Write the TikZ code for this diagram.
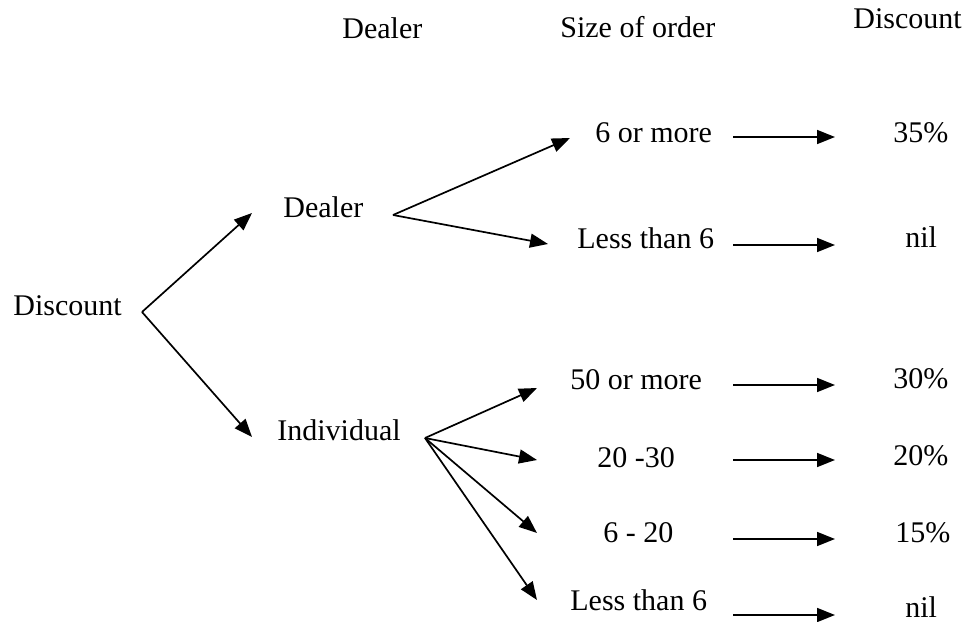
\documentclass[tikz,border=0pt]{standalone}
\usepackage{fontspec}
\setmainfont{Liberation Serif}
\usetikzlibrary{arrows.meta}
\begin{document}
\begin{tikzpicture}[x=0.5pt,y=-0.5pt,
  lbl/.style={anchor=base west,inner sep=0pt,font=\fontsize{15pt}{18pt}\selectfont},
  branch/.style={line width=0.85pt,-{Triangle[length=9pt,width=7pt]}},
  leadto/.style={line width=0.85pt,-{Triangle[length=9pt,width=7pt]}}]
\useasboundingbox (0,0) rectangle (966,622);

% column headings
\node[lbl] (hdealer) at (342,38) {Dealer};
\node[lbl] (hsize)   at (560,37) {Size of order};
\node[lbl] (hdisc)   at (853,28) {Discount};

% tree labels
\node[lbl] (root)  at (13,315)  {Discount};
\node[lbl] (dealer) at (283,217) {Dealer};
\node[lbl] (indiv)  at (277,440) {Individual};

\node[lbl] (d1) at (595,142) {6 or more};
\node[lbl] (d2) at (577,248) {Less than 6};
\node[lbl] (i1) at (570,389) {50 or more};
\node[lbl] (i2) at (597,467) {20 -30};
\node[lbl] (i3) at (603,542) {6 - 20};
\node[lbl] (i4) at (570,610) {Less than 6};

\node[lbl] (p1) at (893,142) {35\%};
\node[lbl] (p2) at (905,247) {nil};
\node[lbl] (p3) at (893,388) {30\%};
\node[lbl] (p4) at (893,465) {20\%};
\node[lbl] (p5) at (895,542) {15\%};
\node[lbl] (p6) at (905,617) {nil};

% branching points and arrow ends
\coordinate (vroot)   at (142,312);
\coordinate (vdealer) at (393,215);
\coordinate (vindiv)  at (425,438);
\coordinate (tdealer) at (252,213);
\coordinate (tindiv)  at (252,437);
\coordinate (td1) at (570,138);
\coordinate (td2) at (548,244);
\coordinate (ti1) at (537,388);
\coordinate (ti2) at (537,460);
\coordinate (ti3) at (537,533);
\coordinate (ti4) at (537,600);

% first split
\draw[branch] (vroot) -- (tdealer);
\draw[branch] (vroot) -- (tindiv);
% dealer orders
\draw[branch] (vdealer) -- (td1);
\draw[branch] (vdealer) -- (td2);
% individual orders
\draw[branch] (vindiv) -- (ti1);
\draw[branch] (vindiv) -- (ti2);
\draw[branch] (vindiv) -- (ti3);
\draw[branch] (vindiv) -- (ti4);

% size of order -> discount
\foreach \n/\y in {1/137,2/245,3/385,4/460,5/539,6/615}{
  \coordinate (s\n) at (733,\y);
  \coordinate (e\n) at (835,\y);
  \draw[leadto] (s\n) -- (e\n);
}
\end{tikzpicture}
\end{document}
